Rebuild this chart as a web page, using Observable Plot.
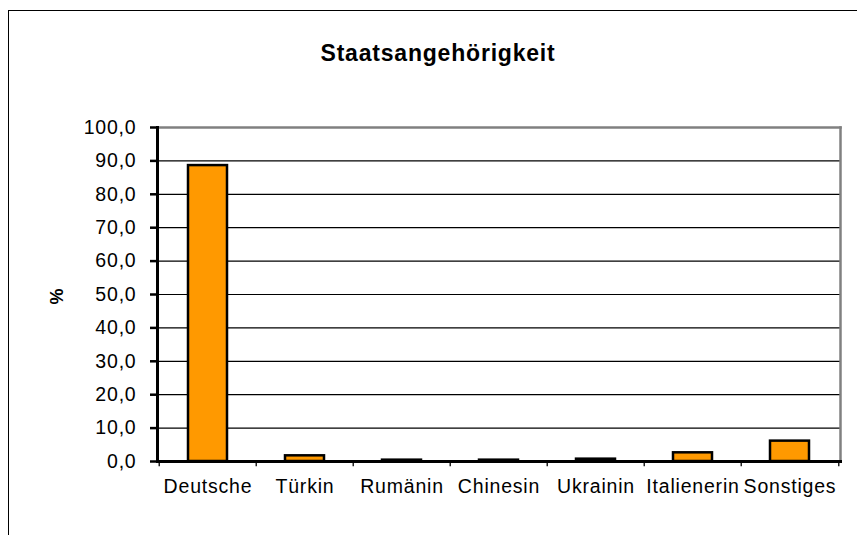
<!DOCTYPE html>
<html>
<head>
<meta charset="utf-8">
<script src="https://cdn.jsdelivr.net/npm/d3@7"></script>
<script src="https://cdn.jsdelivr.net/npm/@observablehq/plot@0.6"></script>
<style>
  html, body { margin: 0; padding: 0; background: #fff; }
  #wrap { position: relative; width: 857px; height: 535px; overflow: hidden; }
  #border { position: absolute; left: 8px; top: 10px; width: 900px; height: 600px; border: 1px solid #000; box-sizing: border-box; }
  #chart { position: absolute; left: 0; top: 0; }
  #chart svg text { letter-spacing: 0.8px; }
</style>
</head>
<body>
<div id="wrap"><div id="border"></div><div id="chart"></div></div>
<script>
const categories = ["Deutsche", "Türkin", "Rumänin", "Chinesin", "Ukrainin", "Italienerin", "Sonstiges"];
const values = [88.6, 1.7, 0.4, 0.4, 0.7, 2.6, 6.1];
const yTicks = [0, 10, 20, 30, 40, 50, 60, 70, 80, 90, 100];
const gridLines = [10, 20, 30, 40, 50, 60, 70, 80, 90];
const title = "Staatsangehörigkeit";
const yLabel = "%";

const data = categories.map((c, i) => ({category: c, value: values[i]}));

const W = 857, H = 535, mL = 157, mR = 17, mT = 127, mB = 74;
const step = (W - mL - mR) / categories.length;
const font = "'Liberation Sans', Arial, sans-serif";

const chart = Plot.plot({
  width: W, height: H,
  marginLeft: mL, marginRight: mR, marginTop: mT, marginBottom: mB,
  style: {fontFamily: font, fontSize: "19px", color: "#000", background: "transparent", overflow: "visible"},
  x: {domain: categories, paddingInner: 0.6, paddingOuter: 0.3, label: null},
  y: {domain: [0, 100], label: null},
  marks: [
    Plot.ruleY(gridLines, {stroke: "#000", strokeWidth: 1.2}),
    Plot.frame({anchor: "top", stroke: "#808080", strokeWidth: 2.5}),
    Plot.frame({anchor: "right", stroke: "#808080", strokeWidth: 2.5}),
    Plot.barY(data, {x: "category", y: "value", fill: "#FF9900", stroke: "#000", strokeWidth: 2.5}),
    Plot.ruleX(categories, {x: d => d, y1: 0, y2: -1.6, dx: -step / 2, stroke: "#000", strokeWidth: 1.3}),
    Plot.ruleX(categories.slice(-1), {x: d => d, y1: 0, y2: -1.6, dx: step / 2, stroke: "#000", strokeWidth: 1.3}),
    Plot.frame({anchor: "bottom", stroke: "#000", strokeWidth: 3}),
    Plot.frame({anchor: "left", stroke: "#000", strokeWidth: 3}),
    Plot.axisY({ticks: yTicks, tickSize: 7, tickPadding: 14, strokeWidth: 2.5,
      tickFormat: d => d.toFixed(1).replace(".", ","), label: null, fontSize: 19.5}),
    Plot.axisX({tickSize: 0, tickPadding: 18, label: null, fontSize: 19.5}),
    Plot.text([yLabel], {frameAnchor: "left", dx: -100, dy: 10, rotate: -90, fontWeight: "bold", fontSize: 18, text: d => d}),
    Plot.text([title], {frameAnchor: "top", dx: -61, dy: -83, fontWeight: "bold", fontSize: 23, text: d => d})
  ]
});
document.getElementById("chart").appendChild(chart);
</script>
</body>
</html>
